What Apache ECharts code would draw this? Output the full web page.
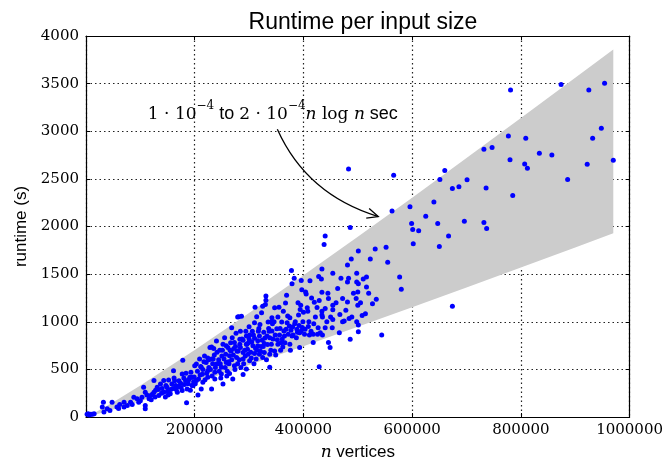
<!DOCTYPE html>
<html>
<head>
<meta charset="utf-8">
<script src="https://cdn.jsdelivr.net/npm/echarts@6/dist/echarts.min.js"></script>
<style>
html, body { margin: 0; padding: 0; background: #fff; }
#main { width: 666px; height: 466px; }
</style>
</head>
<body>
<div id="main"></div>
<script>
// shaded band: 1e-4 .. 2e-4 n log n
const bandN    = [15000, 50000, 100000, 200000, 300000, 400000, 500000, 600000, 700000, 800000, 900000, 970000];
const bandLow  = [21, 78, 166, 352, 546, 744, 947, 1151, 1359, 1569, 1780, 1929];
const bandHigh = [42, 156, 332, 704, 1092, 1489, 1893, 2303, 2719, 3138, 3561, 3858];

// measured runs: [vertices in thousands, runtime in s]
const runs = [
  [2,28],[6,22],[9,28],[12,30],[15,35],[4,35],
  [30,104],[32,156],[33,52],[39,87],[44,69],[48,156],[57,104],[62,132],[70,104],[70,156],[76,122],[82,156],[88,208],[94,191],
  [97,156],[103,208],[106,312],[109,260],[109,122],[109,87],[116,191],[119,226],[125,260],[125,382],[131,312],[134,226],[137,347],
  [143,382],[143,260],[149,312],[152,389],[155,243],[158,347],[161,486],[165,330],[168,260],[174,354],[177,451],[177,278],[178,597],
  [183,382],[185,149],[186,295],[191,417],[195,330],[195,417],
  [60,90],[85,130],[100,170],[112,230],[120,180],[128,280],[140,300],[146,210],[150,270],[160,300],[163,380],[170,320],[180,410],
  [188,350],[192,280],[198,370],
  [194,417],[197,330],[200,538],[203,556],[203,382],[206,232],[209,608],[212,521],[212,295],[215,365],[221,573],[224,486],[224,417],
  [228,729],[231,608],[231,736],[231,295],[235,719],[237,469],[237,399],[240,556],[240,799],[249,521],[249,451],[252,347],[252,764],
  [255,833],[258,573],[258,747],[261,729],[264,458],[264,642],[267,694],[268,938],[269,833],[270,399],[273,781],[273,538],[277,625],
  [279,1049],[280,694],[281,1052],[283,816],[283,764],[286,1059],[289,805],[289,677],[289,608],[289,445],[295,851],[295,764],[295,503],
  [296,764],[298,660],[300,948],[301,590],[307,747],[310,990],[310,826],[310,667],[311,1153],[313,608],[314,1052],[316,747],[319,851],
  [319,660],[320,972],[323,1094],[324,805],[325,625],[325,1163],[328,771],[328,677],[330,1181],[331,1271],[331,1226],[333,851],[335,997],
  [338,833],[338,660],[338,521],[341,1000],[341,764],[342,1042],[342,903],[347,1146],[347,694],[351,927],[353,1049],[353,764],[355,1153],
  [360,997],[362,736],[363,1111],[364,903],[367,1198],[369,1278],[370,990],[374,955],
  [215,500],[218,640],[226,520],[233,560],[244,600],[246,700],[250,640],[256,520],[262,580],[266,780],[272,720],[276,880],[279,560],
  [284,900],[292,700],[300,820],[304,620],[306,900],[309,560],[315,700],[318,930],[322,740],[327,890],[332,600],[336,930],[344,820],
  [346,1000],[349,650],[356,860],[358,700],[361,820],[366,780],[372,870],[376,700],[224,620],[243,560],[260,480],[285,520],[301,860],
  [210,440],[236,650],[248,410],
  [122,240],[127,210],[133,290],[139,250],[147,330],[151,230],[156,290],[162,410],[166,290],[171,380],[175,310],[181,340],[184,460],
  [189,390],[193,470],[199,420],[201,350],[205,480],[207,400],[211,530],[214,450],[217,580],[219,390],[222,460],[226,600],[229,500],
  [232,430],[234,610],[238,520],[241,680],[245,480],[247,560],[251,700],[254,610],[257,660],[259,430],[263,560],[265,700],[268,600],
  [271,650],[274,500],[275,740],[278,690],[282,600],[284,730],[287,820],[290,560],[293,640],[294,900],[297,710],[299,780],[303,680],
  [305,790],[308,860],[312,720],[316,800],[317,900],[321,690],[326,740],[329,830],[334,760],[337,900],[340,700],[343,980],[348,860],
  [352,810],[357,930],[359,780],[365,850],[368,920],[371,1060],[377,910],[381,860],[384,980],[389,890],[392,960],[398,940],[403,920],
  [409,950],[414,900],[419,980],
  [375,1042],[375,764],[378,1538],[379,1399],[379,851],[380,945],[383,1458],[387,833],[388,920],[391,1070],[393,885],[393,729],
  [394,1128],[395,1174],[396,1434],[396,903],[397,1337],[399,1000],[402,868],[404,1313],[405,1292],[407,1146],[408,1111],[411,861],
  [412,1430],[418,868],[418,781],[420,1205],[426,868],[427,938],[428,1476],[429,1222],[429,528],[431,885],[433,1448],[434,1555],
  [434,1309],[434,1111],[434,1070],[435,1049],[435,861],[438,1812],[440,1899],[440,1139],[440,938],[443,1000],[446,1243],[446,781],
  [449,729],[453,938],[454,1510],[454,1174],[454,1125],[454,1024],[466,885],[467,1076],[469,1458],[472,1243],[472,1000],[475,1007],
  [481,1597],[481,1417],[481,1208],[483,1458],[483,2604],[484,1035],[486,1990],[486,816],[488,1660],[489,1049],[497,1243],[498,1510],
  [498,1417],[498,1000],[500,1313],[500,1174],[501,1743],[501,1399],[501,965],[501,896],[508,1066],[514,1083],[516,1469],[516,1365],
  [523,1660],[527,1188],[532,1764],[534,1236],[544,861],[552,1781],[555,1625],
  [385,1000],[390,1200],[400,1100],[410,1000],[415,1250],[422,1050],[425,1150],[445,1300],[450,1050],[460,1200],[463,1350],[478,1120],
  [492,1300],[505,1200],[510,1450],[520,1300],
  [563,2163],[566,2538],[577,1469],[580,1341],[596,2208],[599,2031],[601,1969],[602,1820],[612,1955],[625,2108],[640,2257],[647,2031],
  [650,1789],[651,2493],[660,2587],[667,1899],[674,2399],[674,1163],[686,2417],[696,2056],[701,2490],[732,2042],[732,2812],[736,2403],
  [737,1979],[747,2830],[777,2951],[780,2701],[781,3434],[785,2326],[807,2656],[809,2927],[812,2611],[834,2768],[857,2750],[874,3490],
  [886,2493],[922,2653],[925,3434],[932,2927],[948,3031],[954,3503],[970,2695]
];

// annotation anchors in data units
const noteAt = [113800, 3208];
const arrowFrom = [352000, 3020];
const arrowCtrl = [406000, 2333];
const arrowTo = [537600, 2104];

const serif = 'DejaVu Serif';
const sans = 'Liberation Sans';

const chartDom = document.getElementById('main');
const myChart = echarts.init(chartDom);

const gridLine = { show: true, lineStyle: { color: '#222', type: [1.5, 3], width: 1.2 } };
const boxLine = { show: true, onZero: false, lineStyle: { color: '#000', width: 1.2 } };
const plain = v => String(v);

let option = {
  animation: false,
  backgroundColor: '#fff',
  title: {
    text: 'Runtime per input size',
    left: 358, top: 6, textAlign: 'center',
    textStyle: { fontFamily: sans, fontSize: 23, fontWeight: 'normal', color: '#000' }
  },
  grid: { left: 86, right: 35, top: 36, bottom: 46 },
  xAxis: [
    {
      type: 'value', min: 0, max: 1000000, interval: 200000,
      axisLine: boxLine,
      axisTick: { inside: true, length: 4, lineStyle: { color: '#000' } },
      axisLabel: { showMinLabel: false, formatter: plain, fontFamily: serif, fontSize: 15, color: '#000', margin: 6 },
      splitLine: gridLine,
      name: '{i|n} vertices', nameLocation: 'middle', nameGap: 27,
      nameTextStyle: {
        fontFamily: sans, fontSize: 17, color: '#000',
        rich: { i: { fontFamily: serif, fontStyle: 'italic', fontSize: 17, color: '#000' } }
      }
    },
    {
      type: 'value', position: 'top', min: 0, max: 1000000, interval: 200000,
      axisLine: boxLine,
      axisTick: { inside: true, length: 4, lineStyle: { color: '#000' } },
      axisLabel: { show: false }, splitLine: { show: false }
    }
  ],
  yAxis: [
    {
      type: 'value', min: 0, max: 4000, interval: 500,
      axisLine: boxLine,
      axisTick: { inside: true, length: 4, lineStyle: { color: '#000' } },
      axisLabel: { formatter: plain, fontFamily: serif, fontSize: 15, color: '#000', margin: 7 },
      splitLine: gridLine,
      name: 'runtime (s)', nameLocation: 'middle', nameGap: 46, nameRotate: 90,
      nameTextStyle: { fontFamily: sans, fontSize: 17, color: '#000' }
    },
    {
      type: 'value', position: 'right', min: 0, max: 4000, interval: 500,
      axisLine: boxLine,
      axisTick: { inside: true, length: 4, lineStyle: { color: '#000' } },
      axisLabel: { show: false }, splitLine: { show: false }
    }
  ],
  series: [
    {
      type: 'custom',
      data: [[0, 0]],
      z: 1,
      silent: true,
      renderItem: function (params, api) {
        const pts = [];
        for (let i = 0; i < bandN.length; i++) pts.push(api.coord([bandN[i], bandHigh[i]]));
        for (let i = bandN.length - 1; i >= 0; i--) pts.push(api.coord([bandN[i], bandLow[i]]));
        return { type: 'polygon', shape: { points: pts }, style: { fill: '#cccccc' } };
      }
    },
    {
      type: 'scatter',
      z: 3,
      symbolSize: 5,
      itemStyle: { color: '#0000ff', opacity: 1 },
      data: runs.map(r => [r[0] * 1000, r[1]])
    }
  ]
};
myChart.setOption(option, true);

// annotation text + curved arrow
const toPx = p => myChart.convertToPixel({ xAxisIndex: 0, yAxisIndex: 0 }, p);
const tP = toPx(noteAt), a0 = toPx(arrowFrom), ac = toPx(arrowCtrl), a1 = toPx(arrowTo);
const dx = a1[0] - ac[0], dy = a1[1] - ac[1], dl = Math.sqrt(dx * dx + dy * dy);
const ux = dx / dl, uy = dy / dl;
const hl = 11, hw = 5;
const head = [
  [a1[0] - ux * hl - uy * hw, a1[1] - uy * hl + ux * hw],
  [a1[0], a1[1]],
  [a1[0] - ux * hl + uy * hw, a1[1] - uy * hl - ux * hw]
];

myChart.setOption({
  graphic: [
    {
      type: 'text', x: tP[0], y: tP[1], z: 10,
      style: {
        text: '{m|1 · 10}{s|−4}{t| to }{m|2 · 10}{s|−4}{i|n}{m| log }{i|n}{t| sec}',
        verticalAlign: 'middle', align: 'left',
        rich: {
          m: { fontFamily: serif, fontSize: 17, fill: '#000', lineHeight: 24, verticalAlign: 'bottom' },
          i: { fontFamily: serif, fontStyle: 'italic', fontSize: 17, fill: '#000', lineHeight: 24, verticalAlign: 'bottom' },
          s: { fontFamily: serif, fontSize: 12, fill: '#000', lineHeight: 24, verticalAlign: 'top' },
          t: { fontFamily: sans, fontSize: 18, fill: '#000', lineHeight: 24, verticalAlign: 'bottom' }
        }
      }
    },
    {
      type: 'bezierCurve', z: 10,
      shape: { x1: a0[0], y1: a0[1], cpx1: ac[0], cpy1: ac[1], x2: a1[0], y2: a1[1] },
      style: { stroke: '#000', lineWidth: 1.3, fill: null }
    },
    {
      type: 'polyline', z: 10,
      shape: { points: head },
      style: { stroke: '#000', lineWidth: 1.3, fill: null }
    }
  ]
});
</script>
</body>
</html>
